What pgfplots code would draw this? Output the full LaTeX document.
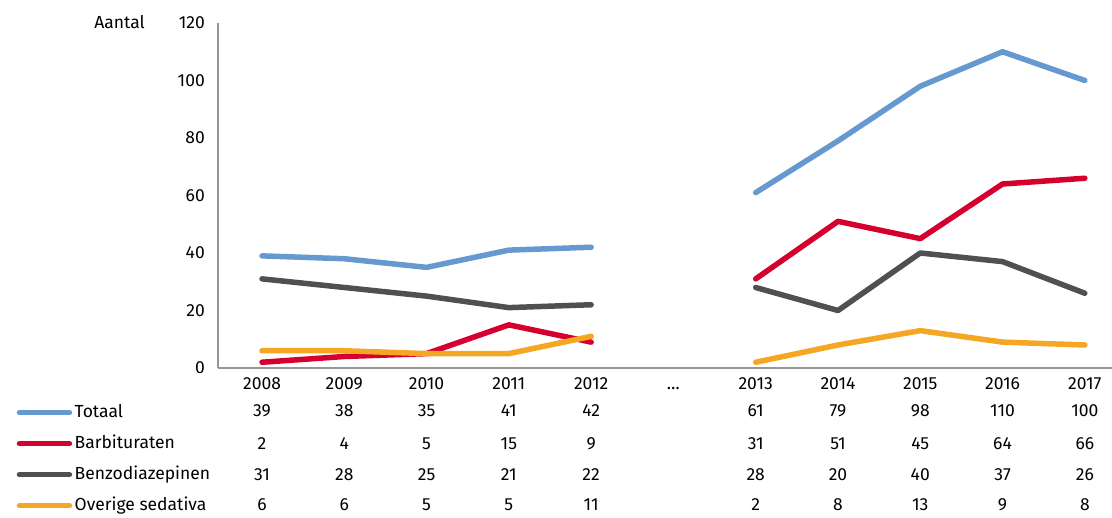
\documentclass[border=0pt]{standalone}
\usepackage{fontspec}
\setmainfont{Fira Sans}
\usepackage{pgfplots}
\usepackage{pgfplotstable}
\pgfplotsset{compat=1.18}
\definecolor{totaal}{RGB}{102,153,207}
\definecolor{barb}{RGB}{214,0,47}
\definecolor{benzo}{RGB}{80,80,80}
\definecolor{overig}{RGB}{245,166,35}
\definecolor{axisgray}{RGB}{150,150,150}

% x = category position, 5 is the "..." gap
\pgfplotstableread{
x tot bar ben ove
0 39 2 31 6
1 38 4 28 6
2 35 5 25 5
3 41 15 21 5
4 42 9 22 11
5 nan nan nan nan
6 61 31 28 2
7 79 51 20 8
8 98 45 40 13
9 110 64 37 9
10 100 66 26 8
}\data

\pgfplotsset{
  rowvals/.style={forget plot, draw=none, mark=none,
    skip coords between index={5}{6},
    nodes near coords, point meta=explicit symbolic,
    every node near coord/.style={anchor=base, inner sep=0pt, text=black}},
}

\begin{document}
\begin{tikzpicture}[font=\fontsize{17.5}{20}\selectfont]
\path[use as bounding box] (-218pt,-150pt) rectangle (894pt,368pt);
\begin{axis}[
    scale only axis,
    width=894pt, height=345pt,
    xmin=-0.535, xmax=10.33,
    ymin=0, ymax=120,
    axis x line*=bottom, axis y line*=left,
    axis line style={axisgray, line width=1.5pt},
    major tick length=0pt,
    xtick={0,...,10},
    xticklabels={2008,2009,2010,2011,2012,\dots,2013,2014,2015,2016,2017},
    ytick={0,20,...,120},
    /pgf/number format/assume math mode=true,
    xticklabel style={anchor=base, inner sep=0pt, yshift=-22pt},
    yticklabel style={anchor=east, inner sep=0pt, xshift=-13pt},
    ylabel={Aantal},
    every axis y label/.style={at={(axis description cs:-0.0817,0.9826)}, anchor=base east, inner sep=0pt},
    clip=false,
    unbounded coords=jump,
    legend cell align=left,
    legend image code/.code={\draw[#1, line width=5.5pt] (0pt,0pt) -- (50pt,0pt);},
    legend style={at={(-0.2254,-0.1043)}, anchor=north west, draw=none, fill=none,
      inner sep=0pt, row sep=14pt, column sep=2.5pt,
      nodes={inner sep=0pt, text height=13pt, text depth=4pt}},
    every axis plot/.append style={line width=5.5pt, line cap=round, line join=round},
]
\addplot[totaal] table[x=x, y=tot]{\data};
\addlegendentry{Totaal}
\addplot[barb] table[x=x, y=bar]{\data};
\addlegendentry{Barbituraten}
\addplot[benzo] table[x=x, y=ben]{\data};
\addlegendentry{Benzodiazepinen}
\addplot[overig] table[x=x, y=ove]{\data};
\addlegendentry{Overige sedativa}

\addplot[rowvals] table[x=x, y expr={-17.0}, meta=tot]{\data};
\addplot[rowvals] table[x=x, y expr={-28.2}, meta=bar]{\data};
\addplot[rowvals] table[x=x, y expr={-39.0}, meta=ben]{\data};
\addplot[rowvals] table[x=x, y expr={-49.7}, meta=ove]{\data};
\end{axis}
\end{tikzpicture}
\end{document}
